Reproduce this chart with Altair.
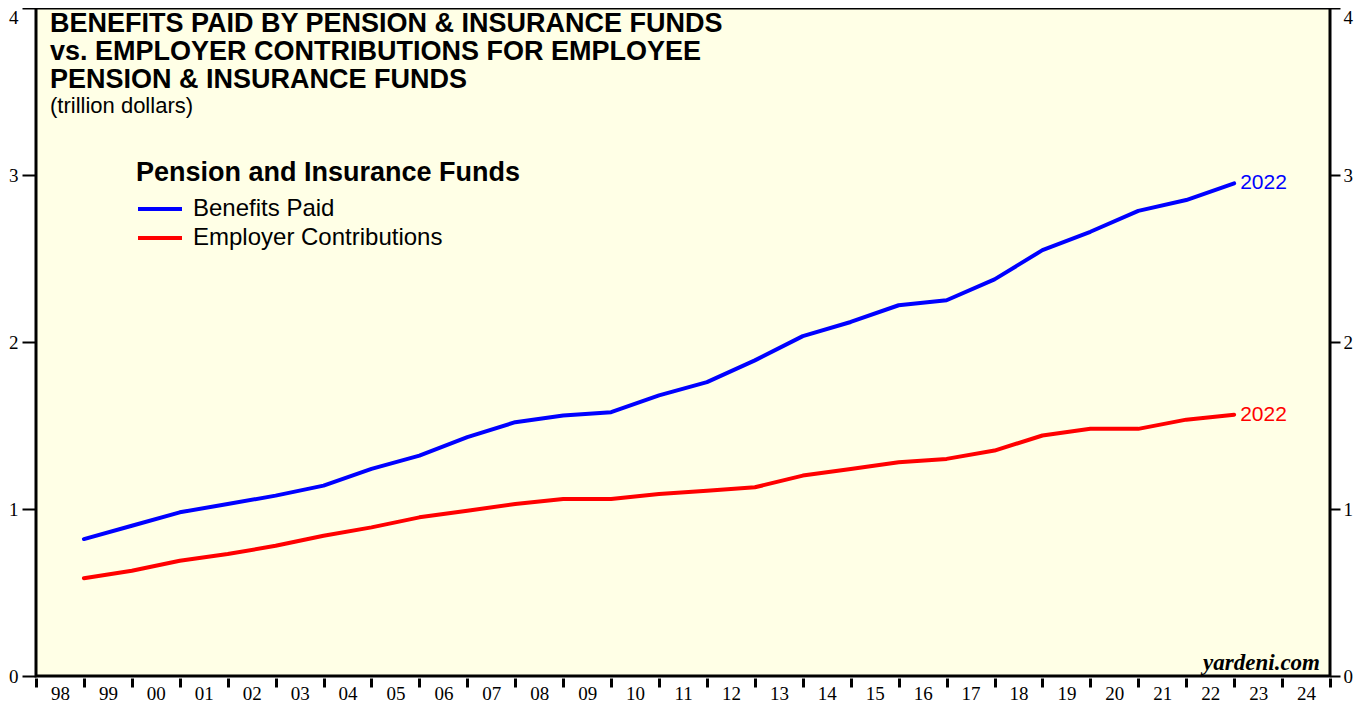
import altair as alt
import pandas as pd

# ---------------- data ----------------
years = list(range(1998, 2023))
benefits_paid = [0.82, 0.90, 0.98, 1.03, 1.08, 1.14, 1.24, 1.32, 1.43, 1.52,
                 1.56, 1.58, 1.68, 1.76, 1.89, 2.035, 2.12, 2.22, 2.25, 2.375,
                 2.55, 2.66, 2.785, 2.85, 2.95]
employer_contrib = [0.585, 0.63, 0.69, 0.73, 0.78, 0.84, 0.89, 0.95, 0.99, 1.03,
                    1.06, 1.06, 1.09, 1.11, 1.13, 1.20, 1.24, 1.28, 1.30, 1.35,
                    1.44, 1.48, 1.48, 1.535, 1.565]
series_names = ["Benefits Paid", "Employer Contributions"]
series_colors = ["#0000ff", "#ff0000"]
title_lines = ["BENEFITS PAID BY PENSION & INSURANCE FUNDS",
               "vs. EMPLOYER CONTRIBUTIONS FOR EMPLOYEE",
               "PENSION & INSURANCE FUNDS"]
subtitle = "(trillion dollars)"
legend_title = "Pension and Insurance Funds"
source_note = "yardeni.com"
x_ticks = list(range(1998, 2026))
y_ticks = [0, 0.5, 1, 1.5, 2, 2.5, 3, 3.5, 4]

rows = []
for name, vals in zip(series_names, [benefits_paid, employer_contrib]):
    for yr, v in zip(years, vals):
        rows.append({"year": yr, "series": name, "value": v})
df = pd.DataFrame(rows)

W, H = 1294, 668
SANS = "Liberation Sans"
SERIF = "Liberation Serif"

xscale = alt.Scale(domain=[1998, 2025], nice=False, zero=False)
yscale = alt.Scale(domain=[0, 4], nice=False)
cscale = alt.Scale(domain=series_names, range=series_colors)


def x_axis():
    return alt.Axis(
        values=x_ticks, title=None, grid=False, domain=False,
        tickSize=9, tickWidth=3, tickColor="black", offset=2,
        labelExpr="datum.value < 2025 ? substring(toString(datum.value), 2, 4) : ''",
        labelOffset=24, labelAlign="center", labelFlush=False, labelOverlap=False,
        labelPadding=-3, labelFont=SERIF, labelFontSize=19, labelColor="black",
    )


def y_axis(orient, tick_major, tick_minor, pad):
    return alt.Axis(
        orient=orient, values=y_ticks, title=None, grid=False, domain=False,
        format="d",
        tickSize={"condition": {"test": "datum.value % 1 === 0", "value": tick_major},
                  "value": tick_minor},
        tickWidth=2, tickColor="black",
        labelExpr="datum.value % 1 === 0 ? format(datum.value, 'd') : ''",
        labelBaseline={"condition": {"test": "datum.value === 4", "value": "top"}, "value": "middle"},
        labelPadding=pad, labelFont=SERIF, labelFontSize=19, labelColor="black",
    )


base = alt.Chart(df).transform_calculate(t="datum.year + 1")

lines = base.mark_line(strokeWidth=4, strokeCap="round", strokeJoin="round").encode(
    x=alt.X("t:Q", scale=xscale, axis=x_axis()),
    y=alt.Y("value:Q", scale=yscale, axis=y_axis("left", 14, 7, 4)),
    color=alt.Color(
        "series:N", scale=cscale,
        legend=alt.Legend(
            title=legend_title, orient="none", legendX=100, legendY=152,
            titleFont=SANS, titleFontSize=27, titleFontWeight="bold", titleColor="black",
            titlePadding=10, titleLimit=800, labelLimit=800,
            labelFont=SANS, labelFontSize=24, labelColor="black",
            symbolType="stroke", symbolSize=44 * 44, symbolStrokeWidth=4,
            clipHeight=24, rowPadding=5, labelOffset=9, padding=0,
        ),
    ),
    detail="series:N",
)

end_labels = base.transform_filter("datum.year === 2022").mark_text(
    align="left", baseline="middle", dx=6, font=SANS, fontSize=21
).encode(
    x=alt.X("t:Q", scale=xscale, axis=x_axis()),
    y=alt.Y("value:Q", scale=yscale, axis=y_axis("right", 10, 6, 3)),
    text=alt.Text("year:Q", format="d"),
    color=alt.Color("series:N", scale=cscale, legend=None),
)

dummy = pd.DataFrame({"k": [0]})
title_text = alt.Chart(dummy).mark_text(
    align="left", baseline="alphabetic", font=SANS, fontSize=27, fontWeight="bold",
    color="black", lineBreak="\n", lineHeight=28,
).encode(x=alt.value(14), y=alt.value(24), text=alt.value("\n".join(title_lines)))

subtitle_text = alt.Chart(dummy).mark_text(
    align="left", baseline="alphabetic", font=SANS, fontSize=22, color="black"
).encode(x=alt.value(14), y=alt.value(105), text=alt.value(subtitle))

source_text = alt.Chart(dummy).mark_text(
    align="right", baseline="alphabetic", font=SERIF, fontSize=23,
    fontWeight="bold", fontStyle="italic", color="black"
).encode(x=alt.value(W - 10), y=alt.value(H - 6), text=alt.value(source_note))

chart = (
    alt.layer(lines, end_labels, title_text, subtitle_text, source_text)
    .resolve_scale(y="shared")
    .resolve_axis(y="independent")
    .properties(
        width=W, height=H,
        autosize=alt.AutoSizeParams(type="none"),
        padding={"left": 28, "top": 0, "right": 24, "bottom": 28},
        background="white",
    )
    .configure_view(fill="#ffffe6", stroke="black", strokeWidth=3)
)

chart.save("out.html", embed_options={"renderer": "svg", "actions": False})
